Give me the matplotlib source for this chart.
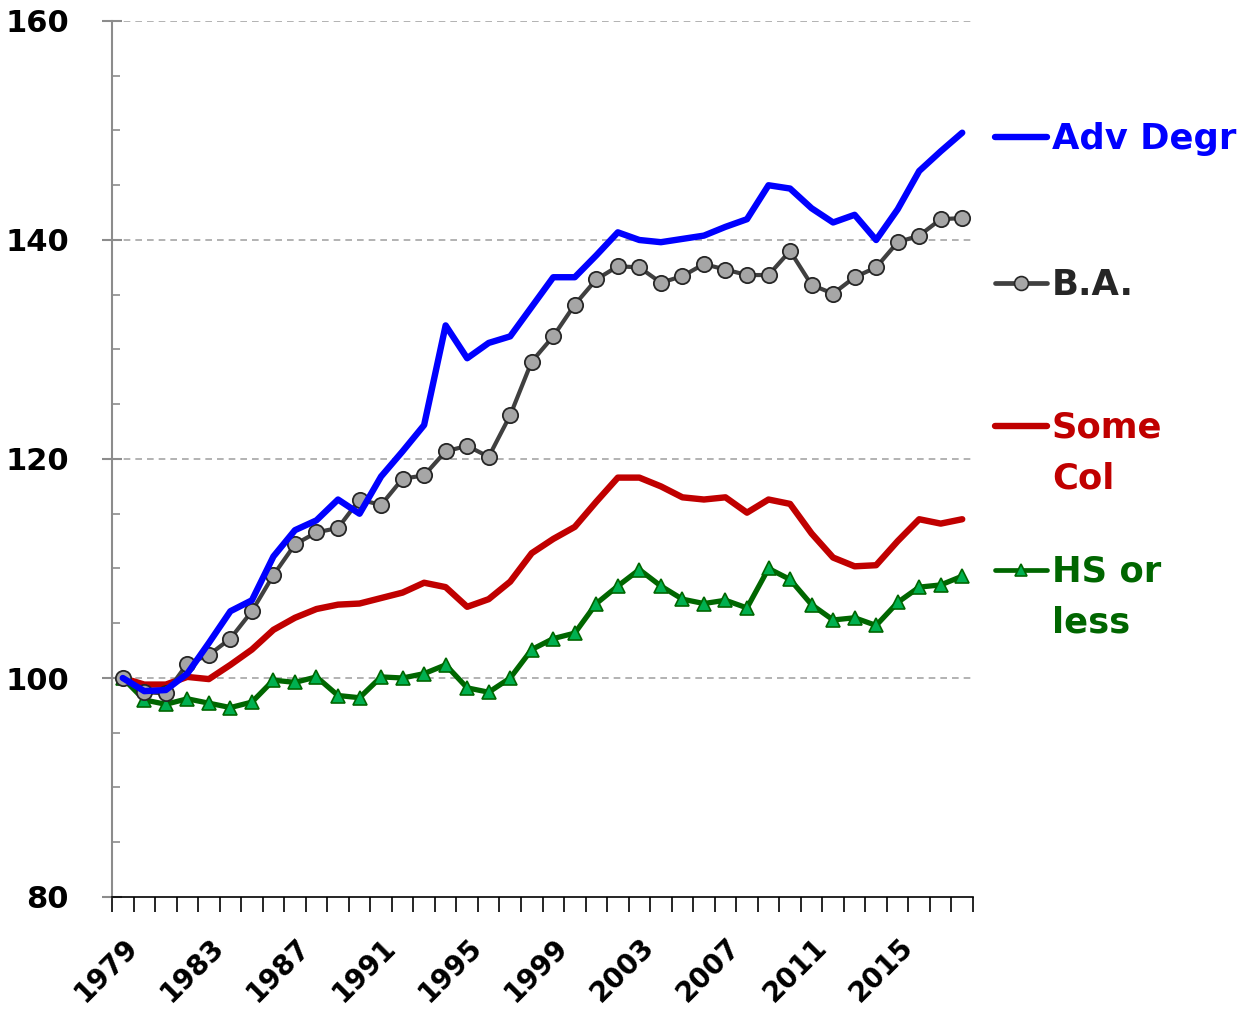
import matplotlib
matplotlib.use("Agg")
import matplotlib.pyplot as plt
from matplotlib.lines import Line2D
from matplotlib.ticker import MultipleLocator, FixedLocator
import matplotlib.transforms as mtransforms

years = list(range(1979, 2019))

adv_degr = [100.0, 98.8, 98.9, 100.4, 103.2, 106.1, 107.1, 111.1, 113.5, 114.4,
            116.3, 115.0, 118.4, 120.7, 123.1, 132.2, 129.2, 130.6, 131.2, 133.9,
            136.6, 136.6, 138.6, 140.7, 140.0, 139.8, 140.1, 140.4, 141.2, 141.9,
            145.0, 144.7, 142.9, 141.6, 142.3, 140.0, 142.8, 146.3, 148.1, 149.8]

ba = [100.0, 98.7, 98.6, 101.3, 102.1, 103.6, 106.1, 109.4, 112.2, 113.3,
      113.7, 116.3, 115.8, 118.2, 118.5, 120.7, 121.2, 120.2, 124.0, 128.9,
      131.2, 134.1, 136.4, 137.6, 137.5, 136.1, 136.7, 137.8, 137.3, 136.8,
      136.8, 139.0, 135.9, 135.1, 136.6, 137.5, 139.8, 140.4, 141.9, 142.0]

some_col = [100.0, 99.4, 99.4, 100.1, 99.9, 101.2, 102.6, 104.4, 105.5, 106.3,
            106.7, 106.8, 107.3, 107.8, 108.7, 108.3, 106.5, 107.2, 108.8, 111.4,
            112.7, 113.8, 116.1, 118.3, 118.3, 117.5, 116.5, 116.3, 116.5, 115.1,
            116.3, 115.9, 113.2, 111.0, 110.2, 110.3, 112.5, 114.5, 114.1, 114.5]

hs_or_less = [100.0, 98.0, 97.6, 98.1, 97.7, 97.3, 97.8, 99.8, 99.6, 100.1,
              98.4, 98.2, 100.1, 100.0, 100.4, 101.2, 99.1, 98.7, 100.0, 102.6,
              103.6, 104.1, 106.8, 108.4, 109.9, 108.4, 107.2, 106.8, 107.1, 106.4,
              110.0, 109.0, 106.7, 105.3, 105.5, 104.8, 106.9, 108.3, 108.5, 109.3]

tick_years = list(range(1979, 2019, 4))
y_ticks = [80, 100, 120, 140, 160]

W, H = 1240, 1009
fig = plt.figure(figsize=(W / 100, H / 100), dpi=100)
ax = fig.add_axes([112 / W, 1 - 897 / H, (973 - 112) / W, (897 - 21) / H])

c_blue = "#0000FF"
c_ba = "#404040"
c_red = "#C00000"
c_green = "#006600"

ax.plot(years, adv_degr, color=c_blue, lw=4.6, solid_capstyle="round", zorder=4)
ax.plot(years, ba, color=c_ba, lw=3.0, marker="o", markersize=11,
        markerfacecolor="#A6A6A6", markeredgecolor="#262626", markeredgewidth=1.3, zorder=3)
ax.plot(years, some_col, color=c_red, lw=4.6, solid_capstyle="round", zorder=2)
ax.plot(years, hs_or_less, color=c_green, lw=3.8, marker="^", markersize=10.5,
        markerfacecolor="#00B050", markeredgecolor=c_green, markeredgewidth=1.2, zorder=2)

ax.set_xlim(1978.5, 2018.5)
ax.set_ylim(80, 160)

for yv in y_ticks[1:]:
    ax.axhline(yv, color="#A6A6A6", lw=1.2, ls=(0, (4, 3)), zorder=0)

for s in ["top", "right"]:
    ax.spines[s].set_visible(False)
ax.spines["left"].set_color("#8C8C8C")
ax.spines["left"].set_linewidth(1.5)
ax.spines["bottom"].set_color("#000000")
ax.spines["bottom"].set_linewidth(1.2)

ax.yaxis.set_major_locator(FixedLocator(y_ticks))
ax.yaxis.set_minor_locator(MultipleLocator(5))
ax.tick_params(axis="y", which="major", direction="inout", length=14, width=1.5,
               color="#8C8C8C", pad=24, labelsize=22)
ax.tick_params(axis="y", which="minor", direction="in", length=6, width=1.2, color="#8C8C8C")
for lab in ax.get_yticklabels():
    lab.set_fontweight("bold")

ax.xaxis.set_minor_locator(FixedLocator([y - 0.5 for y in years] + [years[-1] + 0.5]))
ax.tick_params(axis="x", which="major", length=0, pad=26, labelsize=20)
ax.tick_params(axis="x", which="minor", direction="out", length=11, width=1.2, color="#000000")
ax.set_xticks(tick_years)
ax.set_xticklabels([str(y) for y in tick_years], rotation=45, ha="right",
                   rotation_mode="anchor", fontweight="bold")
offset = mtransforms.ScaledTranslation(1 / 100, 0, fig.dpi_scale_trans)
for lab in ax.get_xticklabels():
    lab.set_transform(lab.get_transform() + offset)

def fy(py):
    return 1 - py / H

def fx(px):
    return px / W

legend_items = [
    ("Adv Degr", c_blue, None, None, "#0000FF", 137),
    ("B.A.", c_ba, "o", "#A6A6A6", "#262626", 283),
    ("Some\nCol", c_red, None, None, "#C00000", 426),
    ("HS or\nless", c_green, "^", "#00B050", "#006600", 570),
]
for label, col, mk, mfc, tcol, py in legend_items:
    lw = 4.6 if mk is None else 3.4
    fig.add_artist(Line2D([fx(995), fx(1047)], [fy(py), fy(py)], color=col, lw=lw,
                          solid_capstyle="round", transform=fig.transFigure))
    if mk is not None:
        fig.add_artist(Line2D([fx(1021)], [fy(py)], marker=mk, markersize=10 if mk == "o" else 9,
                              markerfacecolor=mfc,
                              markeredgecolor="#262626" if mk == "o" else c_green,
                              markeredgewidth=1.2, transform=fig.transFigure))
    fig.text(fx(1052), fy(py - 15), label, color=tcol, fontsize=25.5, fontweight="bold",
             ha="left", va="top", linespacing=1.6, transform=fig.transFigure)

fig.savefig("out.png", dpi=100)
